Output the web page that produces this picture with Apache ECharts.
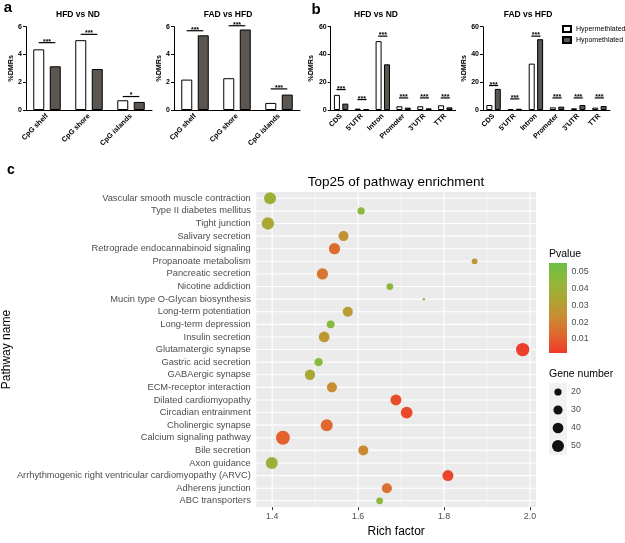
<!DOCTYPE html>
<html><head><meta charset="utf-8">
<script src="https://cdn.jsdelivr.net/npm/echarts@6/dist/echarts.min.js"></script>
<style>html,body{margin:0;padding:0;background:#fff}#c{width:625px;height:543px}</style>
</head><body><div id="c"></div>
<script>
// ---------- panel a / b data ----------
const seriesNames = ['Hypermethlated', 'Hypomethlated'];
const cpgCats = ['CpG shelf', 'CpG shore', 'CpG islands'];
const a1Hyper = [4.37, 5.03, 0.70];
const a1Hypo = [3.15, 2.95, 0.58];
const a1SigH = [4.85, 5.45, 0.97];
const a1SigT = ['***', '***', '*'];
const a2Hyper = [2.19, 2.29, 0.51];
const a2Hypo = [5.38, 5.80, 1.11];
const a2SigH = [5.71, 6.07, 1.52];
const a2SigT = ['***', '***', '***'];
const regionCats = ['CDS', "5'UTR", 'Intron', 'Promoter', "3'UTR", 'TTR'];
const b1Hyper = [10.9, 1.0, 49.6, 2.7, 2.7, 3.4];
const b1Hypo = [4.6, 0.5, 32.9, 1.7, 1.2, 1.9];
const b1SigH = [14.7, 7.5, 53.2, 8.7, 8.7, 8.7];
const b2Hyper = [3.6, 0.6, 33.4, 1.9, 1.2, 1.7];
const b2Hypo = [15.2, 0.9, 51.0, 2.4, 3.6, 2.9];
const b2SigH = [17.6, 8.0, 53.2, 8.7, 8.7, 8.7];
const bSigT = ['***', '***', '***', '***', '***', '***'];
const cpgTicks = {min: 0, max: 6, interval: 2};
const regionTicks = {min: 0, max: 60, interval: 20};

// ---------- panel c data ----------
const pathways = [
  'Vascular smooth muscle contraction', 'Type II diabetes mellitus', 'Tight junction',
  'Salivary secretion', 'Retrograde endocannabinoid signaling', 'Propanoate metabolism',
  'Pancreatic secretion', 'Nicotine addiction', 'Mucin type O-Glycan biosynthesis',
  'Long-term potentiation', 'Long-term depression', 'Insulin secretion',
  'Glutamatergic synapse', 'Gastric acid secretion', 'GABAergic synapse',
  'ECM-receptor interaction', 'Dilated cardiomyopathy', 'Circadian entrainment',
  'Cholinergic synapse', 'Calcium signaling pathway', 'Bile secretion', 'Axon guidance',
  'Arrhythmogenic right ventricular cardiomyopathy (ARVC)', 'Adherens junction', 'ABC transporters'
];
const richFactor = [1.395, 1.607, 1.390, 1.566, 1.545, 1.871, 1.517, 1.674, 1.753,
  1.576, 1.536, 1.521, 1.983, 1.508, 1.488, 1.539, 1.688, 1.713, 1.527, 1.425,
  1.612, 1.399, 1.809, 1.667, 1.650];
const pValue = [0.040, 0.046, 0.035, 0.026, 0.014, 0.027, 0.017, 0.045, 0.046,
  0.029, 0.046, 0.028, 0.002, 0.047, 0.035, 0.024, 0.006, 0.005, 0.013, 0.011,
  0.022, 0.039, 0.004, 0.015, 0.045];
const geneNumber = [50, 20, 53, 35, 44, 15, 44, 18, 10, 35, 23, 40, 62, 25, 37, 35,
  42, 48, 50, 68, 35, 50, 42, 35, 18];
const richTicks = [1.4, 1.6, 1.8, 2.0];
const richMinor = [1.5, 1.7, 1.9];
const richRange = [1.363, 2.014];
const pRange = [0.0016, 0.0554];
const pTicks = [0.01, 0.02, 0.03, 0.04, 0.05];
const geneTicks = [20, 30, 40, 50];
const pColors = ['#EE3B2B', '#E0662E', '#C98C34', '#ADA533', '#8FB83B', '#6FBE46'];

// ---------- helpers ----------
const FONT = 'Liberation Sans, Arial, sans-serif';
const geneSize = n => 2.5 + 1.5 * Math.sqrt(Math.max(n - 10, 0));

const barGrids = [
  {left: 26, top: 26.7, width: 126, height: 83.3},
  {left: 174, top: 26.7, width: 126, height: 83.3},
  {left: 330.7, top: 26.7, width: 125, height: 83.3},
  {left: 483, top: 26.7, width: 127, height: 83.3}
];
const barCats = [cpgCats, cpgCats, regionCats, regionCats];
const barTicks = [cpgTicks, cpgTicks, regionTicks, regionTicks];

function barX(i) {
  return {
    type: 'category', gridIndex: i, data: barCats[i],
    axisLine: {lineStyle: {color: '#000', width: 1}},
    axisTick: {alignWithLabel: true, length: 3, lineStyle: {color: '#000'}},
    axisLabel: {rotate: 45, fontSize: 7.2, fontWeight: 'bold', color: '#000', margin: 5, fontFamily: FONT, interval: 0}
  };
}
function barY(i) {
  return Object.assign({
    type: 'value', gridIndex: i,
    name: '%DMRs', nameLocation: 'middle', nameGap: i < 2 ? 11 : 14, nameRotate: 90,
    nameTextStyle: {fontSize: 7.2, fontWeight: 'bold', color: '#000', fontFamily: FONT},
    axisLine: {show: true, lineStyle: {color: '#000', width: 1}},
    axisTick: {show: true, length: 3, lineStyle: {color: '#000'}},
    axisLabel: {fontSize: 7, fontWeight: 'bold', color: '#000', margin: 4, fontFamily: FONT},
    splitLine: {show: false}
  }, barTicks[i]);
}
function barPair(i, hyper, hypo, bw, gap) {
  return [
    {type: 'bar', name: seriesNames[0], xAxisIndex: i, yAxisIndex: i, data: hyper, barWidth: bw, barGap: gap,
     itemStyle: {color: '#fff', borderColor: '#000', borderWidth: 1}, silent: true},
    {type: 'bar', name: seriesNames[1], xAxisIndex: i, yAxisIndex: i, data: hypo, barWidth: bw, barGap: gap,
     itemStyle: {color: '#5C5651', borderColor: '#000', borderWidth: 1}, silent: true}
  ];
}
function sigSeries(i, heights, labels, off) {
  return {
    type: 'custom', xAxisIndex: i, yAxisIndex: i, silent: true, z: 5,
    data: heights.map((h, k) => [k, h]),
    renderItem(params, api) {
      const p = api.coord([api.value(0), api.value(1)]);
      return {type: 'group', children: [
        {type: 'line', shape: {x1: p[0] - off, y1: p[1], x2: p[0] + off, y2: p[1]}, style: {stroke: '#000', lineWidth: 1.2}},
        {type: 'text', style: {text: labels[params.dataIndex], x: p[0], y: p[1] + 2.5, align: 'center', verticalAlign: 'bottom',
          font: 'bold 7px ' + FONT, fill: '#000'}}
      ]};
    }
  };
}

const grids = barGrids.concat([
  {left: 256, top: 192, width: 280, height: 320, show: true, backgroundColor: '#EBEBEB', borderWidth: 0},
  {left: 549, top: 263, width: 18, height: 90},
  {left: 549, top: 383, width: 18, height: 72, show: true, backgroundColor: '#F2F2F2', borderWidth: 0}
]);

const xAxes = [0, 1, 2, 3].map(barX).concat([
  {type: 'value', gridIndex: 4, min: richRange[0], max: richRange[1],
   name: 'Rich factor', nameLocation: 'middle', nameGap: 17,
   nameTextStyle: {fontSize: 12, color: '#000', fontFamily: FONT, verticalAlign: 'top'},
   axisLine: {show: false},
   axisTick: {show: true, customValues: richTicks, length: 3, lineStyle: {color: '#333'}},
   axisLabel: {customValues: richTicks, formatter: v => v.toFixed(1), fontSize: 8.8, color: '#4D4D4D', margin: 5, fontFamily: FONT},
   splitLine: {show: false}},
  {type: 'value', gridIndex: 5, min: 0, max: 1, show: false},
  {type: 'value', gridIndex: 6, min: 0, max: 1, show: false}
]);

const yAxes = [0, 1, 2, 3].map(barY).concat([
  {type: 'category', gridIndex: 4, data: pathways, inverse: true,
   name: 'Pathway name', nameLocation: 'middle', nameGap: 242, nameRotate: 90,
   nameTextStyle: {fontSize: 12, color: '#000', fontFamily: FONT},
   axisLine: {show: false},
   axisTick: {alignWithLabel: true, length: 3, lineStyle: {color: '#333'}},
   axisLabel: {fontSize: 9.3, color: '#4D4D4D', margin: 5.5, fontFamily: FONT, interval: 0},
   splitLine: {show: false}},
  {type: 'value', gridIndex: 5, min: pRange[0], max: pRange[1], position: 'right',
   axisLine: {show: false},
   axisTick: {show: true, inside: true, customValues: pTicks, length: 3, lineStyle: {color: '#fff', width: 1}},
   axisLabel: {customValues: pTicks, formatter: v => v.toFixed(2), fontSize: 8.8, color: '#4D4D4D', margin: 4.5, fontFamily: FONT},
   splitLine: {show: false}},
  {type: 'value', gridIndex: 5, min: pRange[0], max: pRange[1], position: 'left',
   axisLine: {show: false},
   axisTick: {show: true, inside: true, customValues: pTicks, length: 3, lineStyle: {color: '#fff', width: 1}},
   axisLabel: {show: false}, splitLine: {show: false}},
  {type: 'category', gridIndex: 6, data: geneTicks.map(String), inverse: true, position: 'right',
   axisLine: {show: false}, axisTick: {show: false},
   axisLabel: {fontSize: 8.8, color: '#4D4D4D', margin: 4, fontFamily: FONT}}
]);

const series = [].concat(
  barPair(0, a1Hyper, a1Hypo, 11, '50%'),
  barPair(1, a2Hyper, a2Hypo, 11, '50%'),
  barPair(2, b1Hyper, b1Hypo, 6, '40%'),
  barPair(3, b2Hyper, b2Hypo, 6, '40%'),
  [sigSeries(0, a1SigH, a1SigT, 8.3), sigSeries(1, a2SigH, a2SigT, 8.3),
   sigSeries(2, b1SigH, bSigT, 4.6), sigSeries(3, b2SigH, bSigT, 4.6)]
);

// panel c grid lines (drawn from the axis values)
series.push({
  type: 'custom', xAxisIndex: 4, yAxisIndex: 4, silent: true, z: 1,
  data: richTicks.map(v => [v, 0, 1]).concat(richMinor.map(v => [v, 0, 0])),
  renderItem(params, api) {
    const cs = params.coordSys;
    const x = api.coord([api.value(0), 0])[0];
    return {type: 'line', shape: {x1: x, y1: cs.y, x2: x, y2: cs.y + cs.height},
      style: {stroke: '#fff', lineWidth: api.value(2) ? 1.1 : 0.5}};
  }
});
series.push({
  type: 'custom', xAxisIndex: 4, yAxisIndex: 4, silent: true, z: 1,
  data: pathways.map((n, i) => [richTicks[0], i]),
  renderItem(params, api) {
    const cs = params.coordSys;
    const y = api.coord([api.value(0), api.value(1)])[1];
    return {type: 'line', shape: {x1: cs.x, y1: y, x2: cs.x + cs.width, y2: y},
      style: {stroke: '#fff', lineWidth: 1.1}};
  }
});
const scatterIndex = series.length;
series.push({
  type: 'scatter', xAxisIndex: 4, yAxisIndex: 4, z: 3, silent: true,
  data: pathways.map((n, i) => [richFactor[i], i, pValue[i], geneNumber[i]]),
  symbolSize: v => geneSize(v[3]),
  itemStyle: {opacity: 1}
});
// colour bar
series.push({
  type: 'custom', xAxisIndex: 5, yAxisIndex: 5, silent: true, z: 1,
  data: [[0, pRange[0]]],
  renderItem(params, api) {
    const tl = api.coord([0, pRange[1]]);
    const br = api.coord([1, pRange[0]]);
    const stops = pColors.slice().reverse().map((c, k, arr) => ({offset: k / (arr.length - 1), color: c}));
    return {type: 'rect', shape: {x: tl[0], y: tl[1], width: br[0] - tl[0], height: br[1] - tl[1]},
      style: {fill: new echarts.graphic.LinearGradient(0, 0, 0, 1, stops)}};
  }
});
// size legend
series.push({
  type: 'scatter', xAxisIndex: 6, yAxisIndex: 7, silent: true,
  data: geneTicks.map((g, i) => [0.5, i, g]),
  symbolSize: v => geneSize(v[2]),
  itemStyle: {color: '#111', opacity: 1}
});

const txt = (text, x, y, font, align) => ({type: 'text', x, y, silent: true,
  style: {text, font, fill: '#000', align: align || 'center', verticalAlign: 'middle'}});

const option = {
  animation: false,
  backgroundColor: '#fff',
  grid: grids,
  xAxis: xAxes,
  yAxis: yAxes,
  legend: {
    data: seriesNames, orient: 'vertical', left: 562, top: 25, padding: 0,
    itemWidth: 8, itemHeight: 6, itemGap: 3,
    icon: 'rect', selectedMode: false,
    textStyle: {fontSize: 7, color: '#000', fontFamily: FONT}
  },
  visualMap: {type: 'continuous', show: false, seriesIndex: scatterIndex, dimension: 2,
    min: pRange[0], max: pRange[1], inRange: {color: pColors}},
  graphic: [
    txt('a', 8, 8, 'bold 15px ' + FONT),
    txt('b', 316, 10, 'bold 15px ' + FONT),
    txt('c', 11, 170, 'bold 14px ' + FONT),
    txt('HFD vs ND', 78, 15, 'bold 8.5px ' + FONT),
    txt('FAD vs HFD', 228, 15, 'bold 8.5px ' + FONT),
    txt('HFD vs ND', 376, 15, 'bold 8.5px ' + FONT),
    txt('FAD vs HFD', 528, 15, 'bold 8.5px ' + FONT),
    txt('Top25 of pathway enrichment', 396, 182, '13.5px ' + FONT),
    txt('Pvalue', 549, 254, '10.5px ' + FONT, 'left'),
    txt('Gene number', 549, 374, '10.5px ' + FONT, 'left')
  ],
  series
};
const chart = echarts.init(document.getElementById('c'), null, {renderer: 'canvas'});
chart.setOption(option);
</script>
</body></html>
